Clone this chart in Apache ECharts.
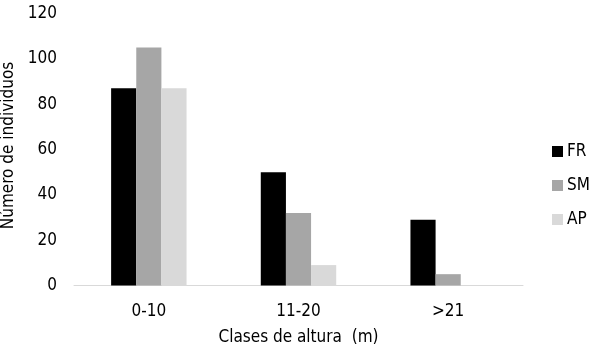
<!DOCTYPE html>
<html><head><meta charset="utf-8">
<script src="https://cdn.jsdelivr.net/npm/echarts@6/dist/echarts.min.js"></script>
<style>html,body{margin:0;padding:0;background:#fff}#c{width:596px;height:354px}</style>
</head><body><div id="c"></div>
<script>
const categories = ['0-10', '11-20', '>21'];
const seriesNames = ['FR', 'SM', 'AP'];
const FR = [87, 50, 29];
const SM = [105, 32, 5];
const AP = [87, 9, 0];
const yTicks = [0, 20, 40, 60, 80, 100, 120];

const FONT = '"Liberation Sans Narrow", "DejaVu Sans Condensed", "Liberation Sans", Arial, sans-serif';
const FS = 17;
const colors = ['#000000', '#a6a6a6', '#d9d9d9'];
const chart = echarts.init(document.getElementById('c'), null, {renderer: 'canvas'});
chart.setOption({
  animation: false,
  textStyle: {fontFamily: FONT},
  grid: {left: 74, right: 73, top: 13.5, bottom: 68.5, outerBoundsMode: 'none', containLabel: false},
  legend: {
    orient: 'vertical', left: 547, top: 138, itemGap: 17,
    itemWidth: 11, itemHeight: 11, icon: 'rect',
    textStyle: {fontFamily: FONT, fontSize: FS, color: '#000', padding: [0,0,0,-1]},
    data: seriesNames
  },
  xAxis: {
    type: 'category', data: categories,
    axisLine: {lineStyle: {color: '#d9d9d9', width: 1}},
    axisTick: {show: false},
    axisLabel: {fontFamily: FONT, fontSize: FS, color: '#000', margin: 18},
    name: 'Clases de altura  (m)', nameLocation: 'middle', nameGap: 44,
    nameTextStyle: {fontFamily: FONT, fontSize: FS, color: '#000'}
  },
  yAxis: {
    type: 'value', min: yTicks[0], max: yTicks[yTicks.length-1], interval: 20,
    axisLine: {show: false}, axisTick: {show: false}, splitLine: {show: false},
    axisLabel: {fontFamily: FONT, fontSize: FS, color: '#000', margin: 17},
    name: 'Número de individuos', nameLocation: 'middle', nameGap: 51,
    nameTextStyle: {fontFamily: FONT, fontSize: FS, color: '#000', padding: [0, 0, 0, 8]}
  },
  series: [
    {name: seriesNames[0], type: 'bar', data: FR, itemStyle: {color: colors[0]}, barGap: '0%', barCategoryGap: '49.6%'},
    {name: seriesNames[1], type: 'bar', data: SM, itemStyle: {color: colors[1]}, barGap: '0%', barCategoryGap: '49.6%'},
    {name: seriesNames[2], type: 'bar', data: AP, itemStyle: {color: colors[2]}, barGap: '0%', barCategoryGap: '49.6%'}
  ]
});
</script></body></html>
